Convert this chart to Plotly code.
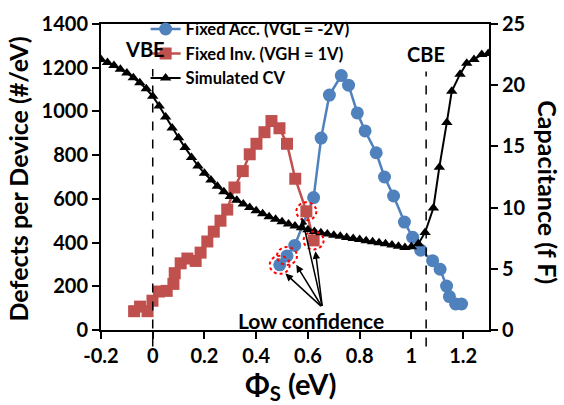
import plotly.graph_objects as go

# ---- data ----
acc_x = [0.491, 0.519, 0.549, 0.622, 0.651, 0.683, 0.729, 0.757, 0.791, 0.821, 0.864,
         0.896, 0.931, 0.973, 1.005, 1.036, 1.082, 1.111, 1.136, 1.147, 1.171, 1.194]
acc_y = [298, 339, 387, 606, 878, 1075, 1164, 1120, 993, 911, 811,
         700, 613, 494, 424, 365, 317, 278, 201, 153, 119, 119]

inv_x = [-0.072, -0.049, -0.020, -0.001, 0.024, 0.054, 0.080, 0.085, 0.108, 0.134, 0.166,
         0.185, 0.211, 0.236, 0.262, 0.288, 0.316, 0.348, 0.375, 0.401, 0.432, 0.459,
         0.490, 0.519, 0.551, 0.594, 0.622]
inv_y = [86, 107, 86, 134, 176, 179, 211, 260, 305, 327, 316,
         354, 405, 450, 500, 551, 652, 727, 804, 852, 905, 956,
         923, 852, 692, 543, 410]

cv_x = [-0.2, -0.175, -0.15, -0.125, -0.1, -0.075, -0.05, -0.025, 0.0,
        0.025, 0.05, 0.075, 0.1, 0.125, 0.15, 0.175, 0.2,
        0.225, 0.25, 0.275, 0.3, 0.325, 0.35, 0.375, 0.4,
        0.425, 0.45, 0.475, 0.5, 0.525, 0.55, 0.575, 0.6,
        0.625, 0.65, 0.675, 0.7, 0.725, 0.75, 0.775, 0.8,
        0.825, 0.85, 0.875, 0.9, 0.925, 0.95, 0.975, 1.0,
        1.027, 1.053, 1.085, 1.108, 1.137, 1.156, 1.188, 1.214, 1.242, 1.272, 1.297]
cv_y = [22.1, 21.85, 21.6, 21.3, 21.0, 20.6, 20.2, 19.7, 19.1,
        18.3, 17.4, 16.5, 15.7, 14.9, 14.1, 13.4, 12.8,
        12.25, 11.75, 11.3, 10.9, 10.6, 10.3, 10.0, 9.75,
        9.5, 9.25, 9.05, 8.85, 8.65, 8.5, 8.35, 8.2,
        8.05, 7.95, 7.85, 7.75, 7.65, 7.55, 7.48, 7.4,
        7.3, 7.2, 7.12, 7.05, 6.95, 6.85, 6.75, 6.8,
        7.04, 7.97, 9.97, 13.3, 16.96, 19.5, 20.9, 21.8, 22.1, 22.5, 22.6]

# low-confidence points (x, y)
low_pts = [(0.491, 298), (0.519, 339), (0.594, 543), (0.622, 410)]
arrow_heads = [(0.513, 258), (0.555, 298), (0.577, 514), (0.629, 360)]
arrow_tail = (0.656, 103)

x_ticks = [-0.2, 0, 0.2, 0.4, 0.6, 0.8, 1, 1.2]
x_tick_text = ["-0.2", "0", "0.2", "0.4", "0.6", "0.8", "1", "1.2"]

vbe_x = 0.0
cbe_x = 1.057

BLUE = "#4F81BD"
RED = "#C0504D"
FONT = "Lato"

fig = go.Figure()
fig.add_trace(go.Scatter(x=acc_x, y=acc_y, mode="lines+markers", name="Fixed Acc. (VGL = -2V)",
                         line=dict(color=BLUE, width=2.5),
                         marker=dict(symbol="circle", size=13, color=BLUE)))
fig.add_trace(go.Scatter(x=inv_x, y=inv_y, mode="lines+markers", name="Fixed Inv. (VGH = 1V)",
                         line=dict(color=RED, width=2.5),
                         marker=dict(symbol="square", size=12, color=RED)))
fig.add_trace(go.Scatter(x=cv_x, y=cv_y, mode="lines+markers", name="Simulated CV", yaxis="y2",
                         line=dict(color="black", width=2),
                         marker=dict(symbol="triangle-up", size=10, color="black")))

shapes = []
for xv, y0 in [(vbe_x, 0.853), (cbe_x, 0.845)]:
    shapes.append(dict(type="line", xref="x", yref="paper", x0=xv, x1=xv, y0=-0.054, y1=y0,
                       line=dict(color="black", width=1.5, dash="dash")))
for (px, py) in low_pts:
    shapes.append(dict(type="circle", xref="x", yref="y", xsizemode="pixel", ysizemode="pixel",
                       xanchor=px, yanchor=py, x0=-10, x1=10, y0=-9, y1=9,
                       line=dict(color="red", width=2, dash="dot")))

bold = dict(family=FONT, weight="bold", color="black")
annotations = [
    dict(text="VBE", x=vbe_x - 0.03, y=(330 - 42) / 314.0, xref="x", yref="paper", showarrow=False,
         font=dict(size=20, **bold), xanchor="center", yanchor="middle"),
    dict(text="CBE", x=cbe_x, y=(330 - 47) / 314.0, xref="x", yref="paper", showarrow=False,
         font=dict(size=20, **bold), xanchor="center", yanchor="middle"),
    dict(text="Low confidence", x=0.613, y=45, xref="x", yref="y", showarrow=False,
         font=dict(size=21, **bold)),
    dict(text="Defects per Device (#/eV)", x=-0.214, y=0.495, xref="paper", yref="paper",
         showarrow=False, textangle=-90, xanchor="center", yanchor="middle",
         font=dict(size=25, **bold)),
    dict(text="Capacitance (f F)", x=1.152, y=0.45, xref="paper", yref="paper",
         showarrow=False, textangle=90, xanchor="center", yanchor="middle",
         font=dict(size=25, **bold)),
    dict(text="Φ<sub>S</sub> (eV)", x=0.49, y=-0.18, xref="paper", yref="paper",
         showarrow=False, xanchor="center", yanchor="middle", font=dict(size=29, **bold)),
]

for (hx, hy) in arrow_heads:
    annotations.append(dict(text="", x=hx, y=hy, xref="x", yref="y",
                            ax=arrow_tail[0], ay=arrow_tail[1], axref="x", ayref="y",
                            showarrow=True, arrowhead=2, arrowsize=1, arrowwidth=1.5,
                            arrowcolor="black"))

tickfont = dict(size=20, **bold)
fig.update_layout(
    width=564, height=405,
    margin=dict(l=101, r=75, t=16, b=75),
    paper_bgcolor="white", plot_bgcolor="white",
    showlegend=True,
    legend=dict(x=0.115, y=1.04, xanchor="left", yanchor="top", bgcolor="rgba(0,0,0,0)",
                font=dict(size=16.5, **bold), tracegroupgap=0, itemwidth=30),
    xaxis=dict(range=[-0.2, 1.3], tickvals=x_ticks, ticktext=x_tick_text,
               showgrid=False, zeroline=False, showline=True, linecolor="black", linewidth=2,
               mirror=True, ticks="outside", ticklen=7, tickwidth=2, tickcolor="black",
               tickfont=tickfont),
    yaxis=dict(range=[0, 1400], dtick=200, showgrid=False, zeroline=False, showline=True,
               linecolor="black", linewidth=2, ticks="outside", ticklen=7, tickwidth=2,
               tickcolor="black", tickfont=tickfont),
    yaxis2=dict(range=[0, 25], dtick=5, overlaying="y", side="right", showgrid=False,
                zeroline=False, showline=True, linecolor="black", linewidth=2,
                ticks="outside", ticklen=7, tickwidth=2, tickcolor="black", tickfont=tickfont),
    shapes=shapes,
    annotations=annotations,
)

fig.write_html("out.html")
